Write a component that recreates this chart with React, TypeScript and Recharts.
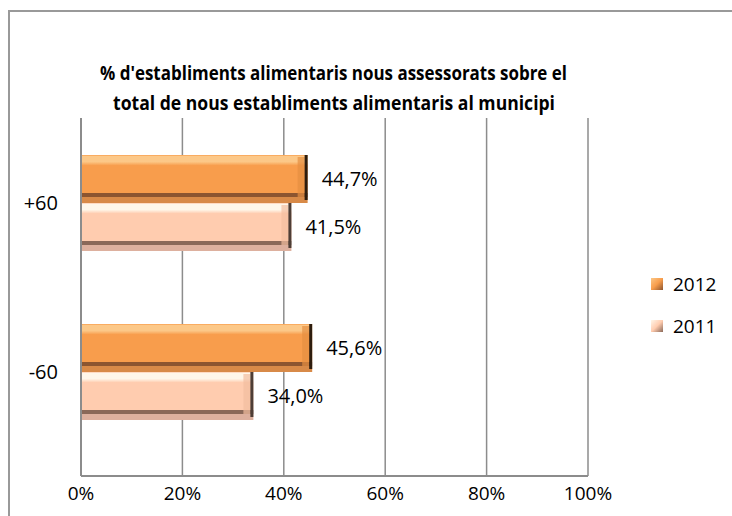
import { BarChart, Bar, XAxis, YAxis, CartesianGrid, LabelList } from "recharts";

const categories = ["+60", "-60"];
const values2012 = [44.7, 45.6];
const values2011 = [41.5, 34.0];
const xTicks = [0, 20, 40, 60, 80, 100];
const titleLines = [
  "% d'establiments alimentaris nous assessorats sobre el",
  "total de nous establiments alimentaris al municipi",
];

const data = categories.map((c, i) => ({ cat: c, y2012: values2012[i], y2011: values2011[i] }));

const FONT = "'Open Sans', sans-serif";

const pal = {
  y2012: { main: "#F89D4C", light: "#FCC888", dark: "#8C5530", low: "#D88A48", edge: "#2E1D0E", bevel: "#E58E42" },
  y2011: { main: "#FFCCAF", light: "#FFF7EA", dark: "#8A6858", low: "#DDB09E", edge: "#4E3E36", bevel: "#F2BD9F" },
};

function bevelShape(key: "y2012" | "y2011") {
  return (props: any) => {
    const { x, y, width, height } = props;
    if (!width || width <= 0) return <g />;
    const c = pal[key];
    return (
      <g>
        <rect x={x} y={y} width={width} height={height} fill={`url(#grad-${key})`} />
        <rect x={x + width - 10} y={y + 2} width={7} height={height - 8} fill={c.bevel} opacity={0.7} />
        <rect x={x + width - 3} y={y} width={3} height={height - 3} fill={c.edge} />
      </g>
    );
  };
}

function Grad({ id, c }: { id: string; c: typeof pal.y2012 }) {
  return (
    <linearGradient id={id} x1="0" y1="0" x2="0" y2="1">
      <stop offset="0" stopColor={c.main} />
      <stop offset="0.03" stopColor={c.light} />
      <stop offset="0.14" stopColor={c.light} />
      <stop offset="0.22" stopColor={c.main} />
      <stop offset="0.8" stopColor={c.main} />
      <stop offset="0.8" stopColor={c.dark} />
      <stop offset="0.87" stopColor={c.dark} />
      <stop offset="0.87" stopColor={c.low} />
      <stop offset="1" stopColor={c.low} />
    </linearGradient>
  );
}

const fmt = (v: any) => `${Number(v).toFixed(1).replace(".", ",")}%`;

function LegendBox() {
  const items = [
    { label: "2012", c: pal.y2012 },
    { label: "2011", c: pal.y2011 },
  ];
  return (
    <div style={{ fontFamily: FONT, fontSize: 19, color: "#000" }}>
      {items.map((it) => (
        <div key={it.label} style={{ display: "flex", alignItems: "center", height: 42 }}>
          <span
            style={{
              display: "inline-block",
              width: 12,
              height: 12,
              marginRight: 10,
              background: `linear-gradient(135deg, ${it.c.light}, ${it.c.main} 50%, ${it.c.dark})`,
            }}
          />
          {it.label}
        </div>
      ))}
    </div>
  );
}

export default function App() {
  return (
    <div style={{ position: "absolute", left: 0, top: 0, width: 732, height: 516, overflow: "hidden", background: "#fff" }}>
      <div style={{ position: "absolute", left: 8, top: 10, width: 800, height: 600, border: "2px solid #999" }} />
      <div style={{ position: "absolute", left: 0, top: 0 }}>
        <BarChart
          width={732}
          height={516}
          data={data}
          layout="vertical"
          margin={{ top: 118, right: 144, bottom: 10, left: 21 }}
          barGap={0}
          barSize={48}
        >
          <defs>
            <Grad id="grad-y2012" c={pal.y2012} />
            <Grad id="grad-y2011" c={pal.y2011} />
          </defs>
          <CartesianGrid horizontal={false} stroke="#8c8c8c" strokeWidth={1.5} />
          <XAxis
            type="number"
            domain={[0, 100]}
            ticks={xTicks}
            tickFormatter={(v) => `${v}%`}
            axisLine={{ stroke: "#8c8c8c", strokeWidth: 2 }}
            tickLine={false}
            tickSize={0}
            tickMargin={11}
            height={30}
            tick={{ fill: "#000", fontSize: 19, fontFamily: FONT }}
          />
          <YAxis
            type="category"
            dataKey="cat"
            width={60}
            axisLine={{ stroke: "#8c8c8c", strokeWidth: 2 }}
            tickLine={false}
            tickSize={0}
            tickMargin={23}
            padding={{ top: 0, bottom: 20 }}
            tick={{ fill: "#000", fontSize: 20, fontFamily: FONT }}
          />
          <Bar dataKey="y2012" name="2012" fill={pal.y2012.main} shape={bevelShape("y2012")} isAnimationActive={false}>
            <LabelList dataKey="y2012" position="right" offset={14} formatter={fmt} fill="#000" fontSize={20} fontFamily={FONT} />
          </Bar>
          <Bar dataKey="y2011" name="2011" fill={pal.y2011.main} shape={bevelShape("y2011")} isAnimationActive={false}>
            <LabelList dataKey="y2011" position="right" offset={14} formatter={fmt} fill="#000" fontSize={20} fontFamily={FONT} />
          </Bar>
        </BarChart>
      </div>
      <div style={{ position: "absolute", left: 651, top: 263 }}>
        <LegendBox />
      </div>
      <svg style={{ position: "absolute", left: 0, top: 0 }} width={732} height={130}>
        {titleLines.map((t, i) => (
          <text
            key={i}
            x={i === 0 ? 333.5 : 334}
            y={80 + i * 30}
            textAnchor="middle"
            fontFamily={FONT}
            fontWeight="bold"
            fontSize={19}
            textLength={i === 0 ? 467 : 442}
            lengthAdjust="spacingAndGlyphs"
            fill="#000"
          >
            {t}
          </text>
        ))}
      </svg>
    </div>
  );
}
